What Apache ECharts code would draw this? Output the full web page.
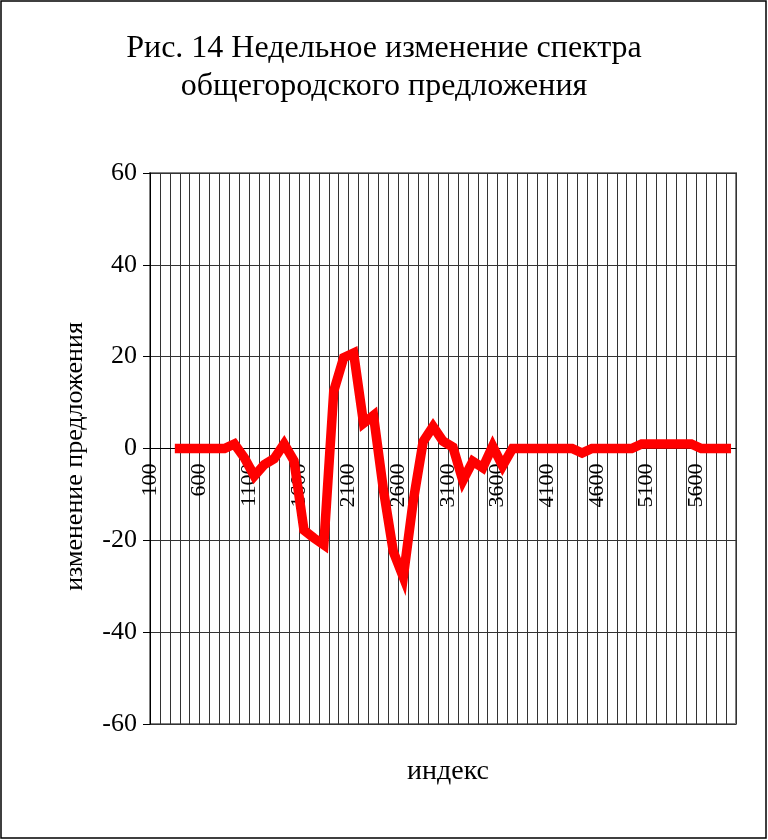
<!DOCTYPE html>
<html>
<head>
<meta charset="utf-8">
<script src="https://cdn.jsdelivr.net/npm/echarts@6/dist/echarts.min.js"></script>
<style>
html,body{margin:0;padding:0;background:#fff;}
#chart{width:768px;height:840px;}
</style>
</head>
<body>
<div id="chart"></div>
<script>
const titleText = 'Рис. 14 Недельное изменение спектра\nобщегородского предложения';
const xAxisName = 'индекс';
const yAxisName = 'изменение предложения';

// categories of the data (one band each)
const categories = [100,200,300,400,500,600,700,800,900,1000,
  1100,1200,1300,1400,1500,1600,1700,1800,1900,2000,
  2100,2200,2300,2400,2500,2600,2700,2800,2900,3000,
  3100,3200,3300,3400,3500,3600,3700,3800,3900,4000,
  4100,4200,4300,4400,4500,4600,4700,4800,4900,5000,
  5100,5200,5300,5400,5500,5600,5700,5800,5900];

// tick label positions (drawn on the band boundaries)
const tickLabels = [100,200,300,400,500,600,700,800,900,1000,
  1100,1200,1300,1400,1500,1600,1700,1800,1900,2000,
  2100,2200,2300,2400,2500,2600,2700,2800,2900,3000,
  3100,3200,3300,3400,3500,3600,3700,3800,3900,4000,
  4100,4200,4300,4400,4500,4600,4700,4800,4900,5000,
  5100,5200,5300,5400,5500,5600,5700,5800,5900,6000];

// weekly change of supply
const changeValues = [null,null,0,0,0,0,0,0,1,-2,
  -6,-3.5,-2.2,1,-2.7,-17.8,-19.5,-21,12.5,19.8,
  20.8,5.5,7.2,-9,-22.5,-28,-11.5,1.5,4.8,1.6,
  0.3,-7,-2.8,-4.2,0.5,-3.8,0,0,0,0,
  0,0,0,-1,0,0,0,0,0,1,
  1,1,1,1,1,0,0,0,0];

const yMin = -60, yMax = 60, yStep = 20;

const serif = 'Liberation Serif, Times New Roman, serif';
const gridColor = '#333';
const gridTop = 173, gridBottom = 116, gridHeight = 840 - gridTop - gridBottom;

const chart = echarts.init(document.getElementById('chart'));
chart.setOption({
  animation: false,
  backgroundColor: '#fff',
  title: {
    text: titleText,
    left: 'center',
    top: 25,
    textStyle: {fontFamily: serif, fontSize: 32, fontWeight: 'normal', color: '#000', lineHeight: 38}
  },
  graphic: [{
    type: 'rect',
    shape: {x: 1, y: 1, width: 765, height: 837},
    style: {fill: 'none', stroke: '#000', lineWidth: 1.5},
    silent: true
  }],
  grid: {
    left: 150, right: 32, top: gridTop, bottom: gridBottom,
    show: true, borderColor: '#808080', borderWidth: 2,
    backgroundColor: 'transparent'
  },
  xAxis: [{
    type: 'category',
    data: categories,
    boundaryGap: true,
    position: 'bottom',
    axisLine: {show: false, onZero: false},
    axisTick: {show: false},
    axisLabel: {show: false},
    splitLine: {show: true, interval: 0, lineStyle: {color: gridColor, width: 1}},
    name: xAxisName,
    nameLocation: 'middle',
    nameGap: 34,
    nameTextStyle: {fontFamily: serif, fontSize: 28, color: '#000', padding: [0, 0, 0, 10]}
  }, {
    type: 'category',
    data: tickLabels,
    boundaryGap: false,
    position: 'bottom',
    offset: -gridHeight / 2,
    axisLine: {show: true, onZero: false, lineStyle: {color: '#000', width: 1}},
    axisTick: {show: false},
    axisLabel: {interval: 4, rotate: 90, margin: 15, fontFamily: serif, fontSize: 22, color: '#000'},
    splitLine: {show: false}
  }],
  yAxis: [{
    type: 'value',
    min: yMin, max: yMax, interval: yStep,
    axisLine: {show: true, onZero: false, lineStyle: {color: '#000', width: 1}},
    axisTick: {show: true, length: 7, lineStyle: {color: '#000'}},
    axisLabel: {margin: 13, fontFamily: serif, fontSize: 26, color: '#000'},
    splitLine: {show: true, lineStyle: {color: gridColor, width: 1}},
    name: yAxisName,
    nameLocation: 'middle',
    nameGap: 62,
    nameTextStyle: {fontFamily: serif, fontSize: 26, color: '#000', padding: [0, 16, 0, 0]}
  }],
  series: [{
    type: 'line',
    xAxisIndex: 0,
    yAxisIndex: 0,
    data: changeValues,
    showSymbol: false,
    symbol: 'none',
    lineStyle: {color: '#ff0000', width: 9.5, join: 'miter', miterLimit: 10, cap: 'butt'},
    itemStyle: {color: '#ff0000'},
    z: 5
  }]
});
</script>
</body>
</html>
